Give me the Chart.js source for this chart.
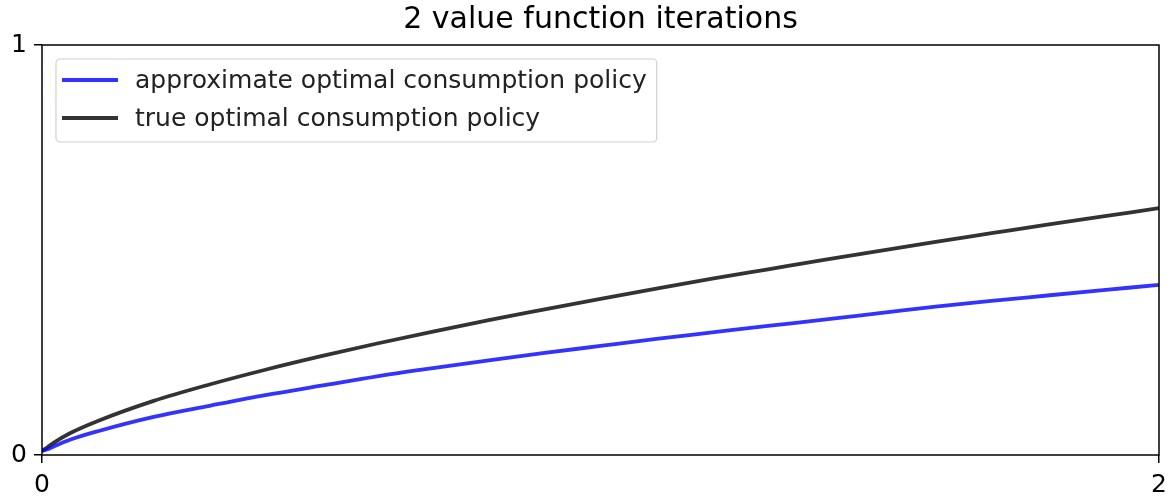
<!DOCTYPE html>
<html>
<head>
<meta charset="utf-8">
<script src="https://cdn.jsdelivr.net/npm/chart.js@4/dist/chart.umd.min.js"></script>
<style>
  html, body { margin: 0; padding: 0; background: #fff; }
  #wrap { width: 1174px; height: 497px; }
</style>
</head>
<body>
<div id="wrap"><canvas id="chart"></canvas></div>
<script>
// values
const capital = [0, 0.01, 0.02, 0.05, 0.1, 0.2, 0.3, 0.4, 0.5, 0.6, 0.7, 0.8, 0.9, 1.0,
                 1.1, 1.2, 1.3, 1.4, 1.5, 1.6, 1.7, 1.8, 1.9, 2.0];
const approxPolicy = [0.01, 0.014, 0.02, 0.037, 0.058, 0.093, 0.120, 0.146, 0.169, 0.192, 0.212, 0.231,
                      0.249, 0.266, 0.283, 0.299, 0.315, 0.330, 0.346, 0.362, 0.376, 0.389, 0.402, 0.415];
const truePolicy = [0.01, 0.019, 0.029, 0.053, 0.083, 0.132, 0.172, 0.208, 0.241, 0.272, 0.301, 0.329,
                    0.355, 0.381, 0.406, 0.430, 0.453, 0.476, 0.498, 0.520, 0.541, 0.562, 0.582, 0.602];
const seriesLabels = ['approximate optimal consumption policy', 'true optimal consumption policy'];
const xTicks = [0, 2];
const yTicks = [0, 1];

const FONT = 'DejaVu Sans';

function points(xs, ys)
{ return xs.map((x, i) => ({ x: x, y: ys[i] })); }

function lineDataset(label, values, color)
{
    return {
        label: label,
        data: points(capital, values),
        borderColor: color,
        borderWidth: 3.8,
        pointRadius: 0,
        cubicInterpolationMode: 'monotone',
        fill: false
    };
}

// black frame round the plot area, as in matplotlib
const frame = {
    id: 'frame',
    afterDraw(chart) {
        const a = chart.chartArea, ctx = chart.ctx;
        ctx.save();
        ctx.strokeStyle = '#000';
        ctx.lineWidth = 1.5;
        ctx.strokeRect(a.left, a.top, a.right - a.left, a.bottom - a.top);
        ctx.restore();
    }
};

// legend inside the plot, upper left
const insideLegend = {
    id: 'insideLegend',
    afterDatasetsDraw(chart) {
        const ctx = chart.ctx, a = chart.chartArea;
        const sets = chart.data.datasets;
        ctx.save();
        ctx.font = '25px "' + FONT + '"';
        let textW = 0;
        sets.forEach(d => { textW = Math.max(textW, ctx.measureText(d.label).width); });
        const x = a.left + 14, y = a.top + 14;
        const w = 79 + textW + 10, h = 83;
        ctx.fillStyle = 'rgba(255,255,255,0.8)';
        ctx.strokeStyle = '#d0d0d0';
        ctx.lineWidth = 1.2;
        ctx.beginPath();
        ctx.roundRect(x, y, w, h, 4);
        ctx.fill();
        ctx.stroke();
        sets.forEach((d, i) => {
            const rowY = y + 21 + i * 38;
            ctx.strokeStyle = d.borderColor;
            ctx.lineWidth = 3.8;
            ctx.beginPath();
            ctx.moveTo(x + 6, rowY);
            ctx.lineTo(x + 62, rowY);
            ctx.stroke();
            ctx.fillStyle = '#222';
            ctx.textBaseline = 'middle';
            ctx.fillText(d.label, x + 79, rowY + 1);
        });
        ctx.restore();
    }
};

new Chart(document.getElementById('chart'), {
    type: 'line',
    data: {
        datasets: [
            lineDataset(seriesLabels[0], approxPolicy, 'rgba(0,0,255,0.8)'),
            lineDataset(seriesLabels[1], truePolicy, 'rgba(0,0,0,0.8)')
        ]
    },
    options: {
        responsive: true,
        maintainAspectRatio: false,
        animation: false,
        layout: { padding: { left: 0, right: 15, top: 0, bottom: 0 } },
        plugins: {
            legend: { display: false },
            tooltip: { enabled: false },
            title: {
                display: true,
                fullSize: false,
                text: '2 value function iterations',
                color: '#000',
                font: { family: FONT, size: 30, weight: 'normal' },
                padding: { top: 2, bottom: 7 }
            }
        },
        scales: {
            x: {
                type: 'linear',
                min: 0,
                max: 2,
                afterBuildTicks: s => { s.ticks = xTicks.map(v => ({ value: v })); },
                afterFit: s => { s.height = 42; },
                border: { display: false },
                grid: { drawOnChartArea: false, drawTicks: true, tickLength: 8, color: '#000', lineWidth: 1.5 },
                ticks: { color: '#000', padding: 7, maxRotation: 0, font: { family: FONT, size: 25 } }
            },
            y: {
                min: 0,
                max: 1,
                afterBuildTicks: s => { s.ticks = yTicks.map(v => ({ value: v })); },
                afterFit: s => { s.width = 42; },
                border: { display: false },
                grid: { drawOnChartArea: false, drawTicks: true, tickLength: 8, color: '#000', lineWidth: 1.5 },
                ticks: { color: '#000', padding: 7, font: { family: FONT, size: 25 } }
            }
        }
    },
    plugins: [frame, insideLegend]
});
</script>
</body>
</html>
